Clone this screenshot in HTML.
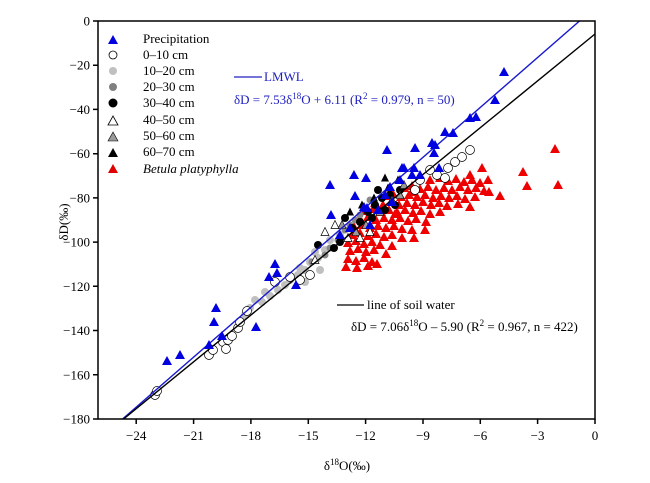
<!DOCTYPE html>
<html><head><meta charset="utf-8"><style>
html,body{margin:0;padding:0;background:#fff;}
svg{display:block;font-family:"Liberation Serif",serif;}
</style></head><body>
<svg width="650" height="483" viewBox="0 0 650 483" xmlns="http://www.w3.org/2000/svg" xmlns:xlink="http://www.w3.org/1999/xlink">
<defs>
<clipPath id="c"><rect x="98" y="21" width="497" height="398"/></clipPath>
<polygon id="t" points="-5,4 5,4 0,-5"/>
<polygon id="ts" points="-4,3.5 4,3.5 0,-4.5"/>
</defs>
<g clip-path="url(#c)">
<!-- red -->
<g fill="#ee0000">
<use xlink:href="#t" x="430" y="180"/><use xlink:href="#t" x="440" y="178"/><use xlink:href="#t" x="448" y="181"/><use xlink:href="#t" x="456" y="179"/><use xlink:href="#t" x="464" y="182"/><use xlink:href="#t" x="472" y="180"/><use xlink:href="#t" x="480" y="183"/><use xlink:href="#t" x="488" y="180"/>
<use xlink:href="#t" x="404" y="188"/><use xlink:href="#t" x="412" y="186"/><use xlink:href="#t" x="420" y="189"/><use xlink:href="#t" x="428" y="187"/><use xlink:href="#t" x="436" y="190"/><use xlink:href="#t" x="444" y="188"/><use xlink:href="#t" x="452" y="190"/><use xlink:href="#t" x="460" y="187"/><use xlink:href="#t" x="468" y="190"/><use xlink:href="#t" x="476" y="188"/><use xlink:href="#t" x="484" y="191"/>
<use xlink:href="#t" x="385" y="196"/><use xlink:href="#t" x="393" y="194"/><use xlink:href="#t" x="401" y="197"/><use xlink:href="#t" x="409" y="195"/><use xlink:href="#t" x="417" y="197"/><use xlink:href="#t" x="425" y="195"/><use xlink:href="#t" x="433" y="198"/><use xlink:href="#t" x="441" y="196"/><use xlink:href="#t" x="449" y="198"/><use xlink:href="#t" x="457" y="196"/><use xlink:href="#t" x="465" y="199"/><use xlink:href="#t" x="475" y="197"/>
<use xlink:href="#t" x="375" y="203"/><use xlink:href="#t" x="383" y="205"/><use xlink:href="#t" x="391" y="202"/><use xlink:href="#t" x="399" y="205"/><use xlink:href="#t" x="407" y="203"/><use xlink:href="#t" x="415" y="205"/><use xlink:href="#t" x="423" y="202"/><use xlink:href="#t" x="431" y="205"/><use xlink:href="#t" x="439" y="203"/><use xlink:href="#t" x="447" y="206"/><use xlink:href="#t" x="458" y="204"/><use xlink:href="#t" x="470" y="207"/>
<use xlink:href="#t" x="365" y="211"/><use xlink:href="#t" x="373" y="209"/><use xlink:href="#t" x="381" y="212"/><use xlink:href="#t" x="389" y="210"/><use xlink:href="#t" x="397" y="212"/><use xlink:href="#t" x="405" y="210"/><use xlink:href="#t" x="413" y="213"/><use xlink:href="#t" x="421" y="211"/><use xlink:href="#t" x="430" y="214"/><use xlink:href="#t" x="440" y="212"/>
<use xlink:href="#t" x="360" y="219"/><use xlink:href="#t" x="368" y="217"/><use xlink:href="#t" x="376" y="220"/><use xlink:href="#t" x="384" y="218"/><use xlink:href="#t" x="392" y="220"/><use xlink:href="#t" x="400" y="218"/><use xlink:href="#t" x="408" y="221"/><use xlink:href="#t" x="416" y="219"/><use xlink:href="#t" x="426" y="222"/>
<use xlink:href="#t" x="354" y="227"/><use xlink:href="#t" x="362" y="225"/><use xlink:href="#t" x="370" y="228"/><use xlink:href="#t" x="378" y="226"/><use xlink:href="#t" x="386" y="228"/><use xlink:href="#t" x="394" y="226"/><use xlink:href="#t" x="402" y="229"/><use xlink:href="#t" x="412" y="230"/>
<use xlink:href="#t" x="352" y="235"/><use xlink:href="#t" x="360" y="233"/><use xlink:href="#t" x="368" y="236"/><use xlink:href="#t" x="376" y="234"/><use xlink:href="#t" x="384" y="237"/><use xlink:href="#t" x="392" y="235"/><use xlink:href="#t" x="402" y="238"/>
<use xlink:href="#t" x="348" y="243"/><use xlink:href="#t" x="356" y="241"/><use xlink:href="#t" x="364" y="244"/><use xlink:href="#t" x="372" y="242"/><use xlink:href="#t" x="380" y="245"/><use xlink:href="#t" x="392" y="246"/>
<use xlink:href="#t" x="350" y="251"/><use xlink:href="#t" x="358" y="249"/><use xlink:href="#t" x="366" y="252"/><use xlink:href="#t" x="374" y="250"/><use xlink:href="#t" x="386" y="254"/>
<use xlink:href="#t" x="348" y="259"/><use xlink:href="#t" x="356" y="261"/><use xlink:href="#t" x="364" y="258"/><use xlink:href="#t" x="372" y="262"/>
<use xlink:href="#t" x="346" y="267"/><use xlink:href="#t" x="357" y="268"/><use xlink:href="#t" x="368" y="266"/><use xlink:href="#t" x="377" y="264"/>
<use xlink:href="#t" x="555" y="149"/><use xlink:href="#t" x="558" y="185"/><use xlink:href="#t" x="523" y="172"/><use xlink:href="#t" x="527" y="186"/><use xlink:href="#t" x="482" y="168"/><use xlink:href="#t" x="489" y="192"/><use xlink:href="#t" x="500" y="196"/><use xlink:href="#t" x="470" y="175"/><use xlink:href="#t" x="412" y="192"/><use xlink:href="#t" x="395" y="214"/><use xlink:href="#t" x="414" y="238"/><use xlink:href="#t" x="425" y="230"/>
</g>
<!-- light gray -->
<g fill="#c0c0c0">
<circle cx="290" cy="280" r="4"/><circle cx="298" cy="275" r="4"/><circle cx="305" cy="270" r="4"/><circle cx="285" cy="285" r="4"/><circle cx="278" cy="290" r="4"/><circle cx="270" cy="296" r="4"/><circle cx="262" cy="302" r="4"/><circle cx="255" cy="300" r="4"/><circle cx="310" cy="262" r="4"/><circle cx="318" cy="258" r="4"/><circle cx="325" cy="250" r="4"/><circle cx="330" cy="240" r="4"/><circle cx="340" cy="235" r="4"/><circle cx="250" cy="308" r="4"/><circle cx="245" cy="315" r="4"/><circle cx="265" cy="292" r="4"/><circle cx="300" cy="268" r="4"/><circle cx="315" cy="252" r="4"/><circle cx="320" cy="270" r="4"/><circle cx="305" cy="282" r="4"/>
</g>
<g fill="#888">
<circle cx="330" cy="248" r="3.5"/><circle cx="338" cy="240" r="3.5"/><circle cx="345" cy="230" r="3.5"/><circle cx="350" cy="225" r="3.5"/><circle cx="355" cy="220" r="3.5"/><circle cx="360" cy="215" r="3.5"/><circle cx="325" cy="255" r="3.5"/><circle cx="365" cy="208" r="3.5"/><circle cx="370" cy="200" r="3.5"/><circle cx="312" cy="262" r="3.5"/>
</g>
<g fill="#000">
<circle cx="345" cy="218" r="4"/><circle cx="352" cy="228" r="4"/><circle cx="360" cy="222" r="4"/><circle cx="368" cy="212" r="4"/><circle cx="375" cy="205" r="4"/><circle cx="382" cy="198" r="4"/><circle cx="385" cy="210" r="4"/><circle cx="390" cy="195" r="4"/><circle cx="395" cy="205" r="4"/><circle cx="400" cy="190" r="4"/><circle cx="340" cy="242" r="4"/><circle cx="334" cy="248" r="4"/><circle cx="318" cy="245" r="4"/><circle cx="372" cy="218" r="4"/><circle cx="378" cy="190" r="4"/>
<use xlink:href="#ts" x="350" y="212"/><use xlink:href="#ts" x="362" y="205"/><use xlink:href="#ts" x="374" y="198"/><use xlink:href="#ts" x="388" y="188"/><use xlink:href="#ts" x="398" y="180"/><use xlink:href="#ts" x="385" y="178"/>
</g>
<g fill="#999" stroke="#000" stroke-width="0.6">
<use xlink:href="#ts" x="342" y="225"/><use xlink:href="#ts" x="356" y="232"/><use xlink:href="#ts" x="366" y="225"/><use xlink:href="#ts" x="380" y="212"/><use xlink:href="#ts" x="392" y="200"/><use xlink:href="#ts" x="400" y="195"/><use xlink:href="#ts" x="404" y="185"/>
</g>
<g fill="#fff" stroke="#000" stroke-width="0.7">
<use xlink:href="#ts" x="315" y="260"/><use xlink:href="#ts" x="325" y="232"/><use xlink:href="#ts" x="335" y="225"/><use xlink:href="#ts" x="348" y="238"/><use xlink:href="#ts" x="360" y="238"/><use xlink:href="#ts" x="370" y="232"/>
<circle cx="155" cy="395" r="4.5"/><circle cx="157" cy="391" r="4.5"/><circle cx="209" cy="355" r="4.5"/><circle cx="213" cy="350" r="4.5"/><circle cx="223" cy="342" r="4.5"/><circle cx="226" cy="349" r="4.5"/><circle cx="238" cy="328" r="4.5"/><circle cx="247" cy="311" r="4.5"/><circle cx="290" cy="277" r="4.5"/><circle cx="470" cy="150" r="4.5"/><circle cx="462" cy="157" r="4.5"/><circle cx="455" cy="162" r="4.5"/><circle cx="448" cy="168" r="4.5"/><circle cx="437" cy="175" r="4.5"/><circle cx="445" cy="178" r="4.5"/><circle cx="275" cy="282" r="4.5"/><circle cx="228" cy="340" r="4.5"/><circle cx="232" cy="336" r="4.5"/><circle cx="300" cy="280" r="4.5"/><circle cx="310" cy="275" r="4.5"/><circle cx="420" cy="180" r="4.5"/><circle cx="430" cy="170" r="4.5"/><circle cx="415" cy="190" r="4.5"/><circle cx="240" cy="322" r="4.5"/>
</g>
<line x1="98" y1="440.4" x2="595" y2="7.5" stroke="#1a1ad0" stroke-width="1.4"/>
<line x1="98" y1="439.9" x2="595" y2="34" stroke="#000" stroke-width="1.4"/>
<g fill="#0000e0">
<use xlink:href="#t" x="504" y="72"/><use xlink:href="#t" x="495" y="100"/><use xlink:href="#t" x="470" y="118"/><use xlink:href="#t" x="476" y="117"/><use xlink:href="#t" x="445" y="132"/><use xlink:href="#t" x="453" y="133"/><use xlink:href="#t" x="387" y="150"/><use xlink:href="#t" x="415" y="148"/><use xlink:href="#t" x="432" y="143"/><use xlink:href="#t" x="434" y="153"/><use xlink:href="#t" x="435" y="145"/><use xlink:href="#t" x="414" y="168"/><use xlink:href="#t" x="402" y="168"/><use xlink:href="#t" x="439" y="168"/><use xlink:href="#t" x="400" y="180"/><use xlink:href="#t" x="404" y="168"/><use xlink:href="#t" x="390" y="187"/><use xlink:href="#t" x="366" y="178"/><use xlink:href="#t" x="354" y="175"/><use xlink:href="#t" x="392" y="202"/><use xlink:href="#t" x="378" y="210"/><use xlink:href="#t" x="367" y="208"/><use xlink:href="#t" x="370" y="225"/><use xlink:href="#t" x="340" y="235"/><use xlink:href="#t" x="331" y="215"/><use xlink:href="#t" x="350" y="228"/><use xlink:href="#t" x="275" y="264"/><use xlink:href="#t" x="269" y="277"/><use xlink:href="#t" x="277" y="273"/><use xlink:href="#t" x="216" y="308"/><use xlink:href="#t" x="214" y="322"/><use xlink:href="#t" x="256" y="327"/><use xlink:href="#t" x="222" y="336"/><use xlink:href="#t" x="209" y="345"/><use xlink:href="#t" x="180" y="355"/><use xlink:href="#t" x="167" y="361"/><use xlink:href="#t" x="330" y="185"/><use xlink:href="#t" x="364" y="207"/><use xlink:href="#t" x="412" y="175"/><use xlink:href="#t" x="420" y="175"/><use xlink:href="#t" x="385" y="195"/><use xlink:href="#t" x="355" y="196"/><use xlink:href="#t" x="296" y="285"/>
</g>
</g>
<g stroke="#000" stroke-width="1.5" fill="none">
<rect x="98" y="21" width="497" height="398"/>
<path d="M136.2 419v5M193.6 419v5M250.9 419v5M308.3 419v5M365.6 419v5M423 419v5M480.3 419v5M537.6 419v5M595 419v5"/>
<path d="M93 21h5M93 65.2h5M93 109.4h5M93 153.7h5M93 197.9h5M93 242.1h5M93 286.3h5M93 330.5h5M93 374.8h5M93 419h5"/>
</g>
<g font-size="13" text-anchor="middle">
<text x="136.2" y="440">−24</text><text x="193.6" y="440">−21</text><text x="250.9" y="440">−18</text><text x="308.3" y="440">−15</text><text x="365.6" y="440">−12</text><text x="423" y="440">−9</text><text x="480.3" y="440">−6</text><text x="537.6" y="440">−3</text><text x="595" y="440">0</text>
</g>
<g font-size="13" text-anchor="end">
<text x="90" y="25.5">0</text><text x="90" y="69.7">−20</text><text x="90" y="113.9">−40</text><text x="90" y="158.2">−60</text><text x="90" y="202.4">−80</text><text x="90" y="246.6">−100</text><text x="90" y="290.8">−120</text><text x="90" y="335">−140</text><text x="90" y="379.3">−160</text><text x="90" y="423.5">−180</text>
</g>
<g font-size="13">
<polygon points="108,44 118,44 113,35" fill="#0000e0"/>
<text x="143" y="43">Precipitation</text>
<circle cx="113" cy="55" r="4" fill="#fff" stroke="#000" stroke-width="0.8"/>
<text x="143" y="59">0–10 cm</text>
<circle cx="113" cy="71" r="4" fill="#c0c0c0"/>
<text x="143" y="75">10–20 cm</text>
<circle cx="113" cy="87" r="4" fill="#808080"/>
<text x="143" y="91">20–30 cm</text>
<circle cx="113" cy="103" r="4.5" fill="#000"/>
<text x="143" y="107">30–40 cm</text>
<polygon points="108,125 118,125 113,116" fill="#fff" stroke="#000" stroke-width="0.8"/>
<text x="143" y="124">40–50 cm</text>
<polygon points="108,141 118,141 113,132" fill="#999" stroke="#000" stroke-width="0.6"/>
<text x="143" y="140">50–60 cm</text>
<polygon points="108,157 118,157 113,148" fill="#000"/>
<text x="143" y="156">60–70 cm</text>
<polygon points="108,173 118,173 113,164" fill="#e00000"/>
<text x="143" y="173" font-style="italic">Betula platyphylla</text>
<line x1="234" y1="77" x2="262" y2="77" stroke="#2020c0" stroke-width="1.2"/>
<text x="264" y="81" fill="#2020c0">LMWL</text>
<text x="234" y="104" fill="#2020c0">δD = 7.53δ<tspan font-size="9" dy="-5">18</tspan><tspan dy="5">O + 6.11 (R</tspan><tspan font-size="9" dy="-5">2</tspan><tspan dy="5"> = 0.979, n = 50)</tspan></text>
<line x1="337" y1="305" x2="364" y2="305" stroke="#000" stroke-width="1.2"/>
<text x="367" y="309">line of soil water</text>
<text x="351" y="331">δD = 7.06δ<tspan font-size="9" dy="-5">18</tspan><tspan dy="5">O – 5.90 (R</tspan><tspan font-size="9" dy="-5">2</tspan><tspan dy="5"> = 0.967, n = 422)</tspan></text>
<text transform="translate(68,222) rotate(-90)" text-anchor="middle">δD(‰)</text>
<text x="347" y="470" text-anchor="middle">δ<tspan font-size="9" dy="-5">18</tspan><tspan dy="5">O(‰)</tspan></text>
</g>
</svg>
</body></html>
